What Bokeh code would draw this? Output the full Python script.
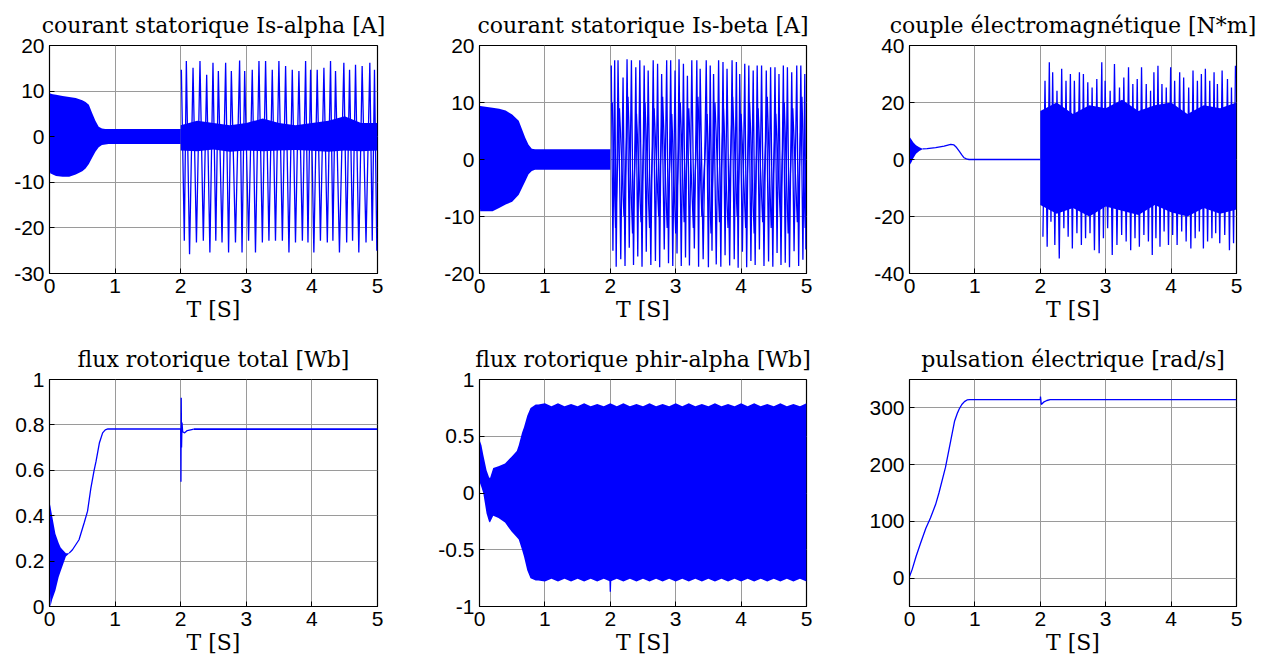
from bokeh.plotting import figure
from bokeh.layouts import column, row
from bokeh.models import FixedTicker, CustomJSTickFormatter, Range1d
from bokeh.embed import file_html
from bokeh.resources import INLINE

# ---------------- data ----------------
# Panel 1: courant statorique Is-alpha [A]
ia_env_t = [0, 0.01, 0.05, 0.1, 0.2, 0.3, 0.4, 0.5, 0.55, 0.6, 0.65, 0.7, 0.75, 0.8, 0.85, 0.9, 1.0, 1.5, 2.0]
ia_env_hi = [10.8, 9.5, 9.3, 9.2, 8.9, 8.7, 8.5, 8.0, 7.6, 7.0, 5.2, 3.5, 2.2, 1.8, 1.7, 1.7, 1.7, 1.7, 1.7]
ia_env_lo = [-6.0, -8.0, -8.3, -8.6, -8.8, -8.8, -8.3, -7.6, -7.0, -6.0, -4.6, -3.3, -2.3, -1.8, -1.7, -1.6, -1.6, -1.6, -1.6]
ia_core_t = [2.0, 2.25, 2.5, 2.75, 3.0, 3.25, 3.5, 3.75, 4.0, 4.25, 4.5, 4.75, 5.0]
ia_core_hi = [2.5, 3.5, 3.0, 2.5, 3.0, 4.0, 3.0, 2.5, 3.0, 3.5, 4.5, 3.0, 3.0]
ia_core_lo = [-3.0, -3.2, -2.8, -3.3, -3.0, -3.2, -3.0, -2.9, -3.1, -3.3, -3.0, -3.2, -3.0]
ia_up_t = [2.01, 2.086, 2.188, 2.294, 2.396, 2.492, 2.574, 2.685, 2.772, 2.898, 2.975, 3.091, 3.193, 3.294, 3.396, 3.497,
           3.599, 3.701, 3.802, 3.904, 3.98, 4.081, 4.183, 4.284, 4.36, 4.487, 4.574, 4.665, 4.766, 4.883, 4.954]
ia_up_v = [14.7, 16.6, 15.1, 16.6, 13.6, 16.2, 14.4, 16.2, 14.4, 16.7, 14.4, 14.7, 16.6, 16.6, 14.7, 16.6,
           15.5, 14.7, 14.4, 16.6, 14.7, 14.7, 15.1, 16.6, 14.4, 16.2, 14.7, 15.8, 15.5, 16.2, 14.7]
ia_dn_t = [2.055, 2.135, 2.24, 2.345, 2.445, 2.535, 2.63, 2.73, 2.835, 2.935, 3.035, 3.14, 3.245, 3.345, 3.445, 3.55,
           3.65, 3.75, 3.855, 3.94, 4.03, 4.13, 4.235, 4.32, 4.42, 4.53, 4.62, 4.715, 4.825, 4.92, 4.99]
ia_dn_v = [-22.8, -25.8, -23.2, -22.8, -25.4, -22.8, -23.2, -25.4, -23.2, -25.4, -22.8, -25.4, -23.2, -22.8, -22.8, -22.8,
           -25.4, -23.2, -22.8, -23.2, -25.4, -22.8, -23.2, -22.8, -25.4, -23.2, -22.8, -25.4, -23.2, -22.8, -25.0]

# Panel 2: courant statorique Is-beta [A]
ib_env_t = [0, 0.01, 0.2, 0.3, 0.4, 0.5, 0.6, 0.65, 0.7, 0.75, 0.8, 0.85, 1.0, 1.5, 2.0]
ib_env_hi = [9.6, 9.4, 9.1, 8.9, 8.6, 7.9, 6.8, 5.3, 3.8, 2.6, 1.9, 1.8, 1.8, 1.8, 1.8]
ib_env_lo = [-6.5, -9.1, -9.1, -8.5, -7.9, -7.4, -6.2, -5.0, -3.8, -2.6, -2.0, -1.8, -1.8, -1.8, -1.8]
ib_up_t = [2.015, 2.067, 2.118, 2.195, 2.256, 2.323, 2.39, 2.451, 2.518, 2.579, 2.656, 2.723, 2.785, 2.862, 2.923, 2.99,
           3.051, 3.118, 3.179, 3.246, 3.323, 3.374, 3.467, 3.528, 3.579, 3.656, 3.723, 3.785, 3.862, 3.928, 3.979,
           4.056, 4.118, 4.185, 4.246, 4.313, 4.385, 4.451, 4.518, 4.579, 4.646, 4.708, 4.774, 4.851, 4.913, 4.974]
ib_up_v = [16.5, 17.4, 17.4, 14.4, 17.6, 17.4, 16.2, 17.4, 16.5, 15.6, 17.4, 16.8, 15.0, 17.4, 17.4, 15.6,
           17.6, 16.8, 14.7, 17.4, 17.4, 15.9, 17.4, 16.5, 15.0, 17.4, 17.1, 15.9, 17.4, 17.1, 15.0,
           16.8, 16.5, 15.6, 16.5, 16.5, 15.6, 16.2, 16.2, 15.0, 16.5, 16.2, 15.3, 16.5, 16.5, 15.0]
ib_dn_t = [2.04, 2.09, 2.16, 2.225, 2.29, 2.355, 2.42, 2.485, 2.55, 2.62, 2.69, 2.755, 2.825, 2.89, 2.955, 3.02,
           3.085, 3.15, 3.21, 3.285, 3.35, 3.42, 3.5, 3.555, 3.62, 3.69, 3.755, 3.825, 3.895, 3.955, 4.02,
           4.085, 4.15, 4.215, 4.28, 4.35, 4.42, 4.485, 4.55, 4.61, 4.675, 4.74, 4.81, 4.88, 4.945, 4.99]
ib_dn_v = [-16.0, -18.8, -17.5, -18.7, -15.5, -18.5, -17.0, -18.8, -16.2, -18.5, -17.8, -18.9, -15.8, -18.2, -18.7, -16.5,
           -18.7, -17.2, -18.6, -15.6, -18.8, -17.5, -18.9, -16.0, -18.4, -18.8, -16.8, -18.6, -17.5, -19.0, -16.2,
           -18.9, -17.8, -18.5, -15.8, -18.7, -17.9, -18.8, -16.4, -18.5, -18.1, -18.9, -16.1, -18.7, -17.6, -15.8]
ib_mid_t = [2.03, 2.08, 2.14, 2.21, 2.27, 2.34, 2.4, 2.47, 2.53, 2.6, 2.67, 2.74, 2.8, 2.87, 2.94, 3.0,
            3.07, 3.13, 3.2, 3.27, 3.34, 3.4, 3.48, 3.54, 3.6, 3.67, 3.73, 3.8, 3.87, 3.94, 4.0,
            4.07, 4.13, 4.2, 4.26, 4.33, 4.4, 4.46, 4.53, 4.6, 4.66, 4.72, 4.79, 4.86, 4.93, 4.98]
ib_mid_v = [10, -12, 9, -10, 11, -13, 8, -11, 10, -12, 9, -10, 11, -12, 8, -13,
            10, -11, 9, -12, 11, -10, 8, -13, 10, -11, 9, -12, 11, -10, 8,
            -12, 10, -13, 9, -11, 11, -12, 8, -10, 10, -13, 9, -11, 11, -12]

# Panel 3: couple electromagnetique [N*m]
ce_env_t = [0, 0.03, 0.06, 0.1, 0.15, 0.2]
ce_env_hi = [8.0, 7.0, 6.0, 5.0, 4.3, 3.8]
ce_env_lo = [-2.0, -1.0, 0.5, 2.0, 3.0, 3.6]
ce_t = [0.2, 0.27, 0.4, 0.53, 0.63, 0.68, 0.72, 0.76, 0.8, 0.835, 0.87, 0.91, 1.0, 2.0]
ce_v = [3.7, 3.8, 4.2, 4.7, 5.3, 5.1, 4.2, 2.9, 1.6, 0.6, 0.2, 0.0, 0.0, 0.0]
ce_core_t = [2.0, 2.25, 2.5, 2.75, 3.0, 3.25, 3.5, 3.75, 4.0, 4.25, 4.5, 4.75, 5.0]
ce_core_hi = [17.0, 20.0, 16.0, 19.0, 18.0, 21.0, 17.0, 19.0, 20.0, 16.0, 19.0, 18.0, 20.0]
ce_core_lo = [-16.0, -19.0, -17.0, -20.0, -16.5, -18.0, -19.5, -16.0, -18.5, -20.0, -17.0, -19.0, -17.5]
ce_up_t = [2.072, 2.138, 2.189, 2.255, 2.327, 2.393, 2.46, 2.521, 2.598, 2.659, 2.726, 2.792, 2.864, 2.94, 2.991,
           3.068, 3.134, 3.211, 3.277, 3.349, 3.415, 3.482, 3.548, 3.62, 3.686, 3.737, 3.799, 3.86, 3.926, 3.993,
           4.054, 4.131, 4.192, 4.269, 4.335, 4.402, 4.463, 4.524, 4.591, 4.657, 4.708, 4.78, 4.862, 4.923, 4.984]
ce_up_v = [27.6, 34.1, 30.6, 24.1, 31.8, 27.6, 30.0, 27.6, 30.6, 30.0, 27.1, 25.3, 28.2, 34.1, 27.6,
           24.1, 33.5, 25.3, 28.8, 32.4, 26.5, 28.2, 32.4, 26.5, 24.1, 30.6, 32.9, 26.5, 25.3, 32.4,
           27.6, 30.6, 28.8, 25.3, 31.2, 27.6, 30.0, 31.8, 27.6, 30.6, 26.5, 31.2, 28.2, 25.3, 32.9]
ce_dn_t = [2.04, 2.105, 2.163, 2.222, 2.29, 2.36, 2.426, 2.49, 2.56, 2.628, 2.692, 2.76, 2.828, 2.9, 2.965,
           3.03, 3.1, 3.172, 3.244, 3.313, 3.382, 3.448, 3.515, 3.584, 3.653, 3.712, 3.768, 3.83, 3.893, 3.96,
           4.024, 4.092, 4.162, 4.23, 4.302, 4.368, 4.432, 4.494, 4.558, 4.624, 4.682, 4.744, 4.82, 4.892, 4.955]
ce_dn_v = [-27.1, -30.6, -21.8, -30.0, -34.7, -24.1, -27.1, -31.2, -25.9, -30.0, -27.6, -25.9, -31.8, -32.9, -27.6,
           -24.1, -33.5, -30.0, -26.5, -28.8, -31.8, -27.6, -30.6, -26.5, -28.8, -33.5, -27.6, -30.6, -25.3, -30.0,
           -26.5, -30.0, -25.3, -28.8, -31.2, -27.6, -25.3, -31.2, -28.8, -27.6, -25.9, -29.4, -26.5, -31.8, -29.4]

# Panel 4: flux rotorique total [Wb]
ft_env_t = [0, 0.015, 0.04, 0.09, 0.14, 0.17, 0.2, 0.25, 0.3]
ft_env_hi = [0.46, 0.44, 0.40, 0.32, 0.28, 0.26, 0.25, 0.235, 0.235]
ft_env_lo = [0.12, 0.0, 0.03, 0.07, 0.13, 0.155, 0.18, 0.22, 0.233]
ft_t = [0.3, 0.35, 0.45, 0.53, 0.58, 0.63, 0.68, 0.71, 0.76, 0.81, 0.85, 0.89, 0.95, 2.0,
        2.004, 2.008, 2.013, 2.02, 2.03, 2.06, 2.1, 2.2]
ft_v = [0.235, 0.25, 0.294, 0.37, 0.42, 0.52, 0.6, 0.64, 0.72, 0.765, 0.778, 0.782, 0.782, 0.782,
        0.55, 0.92, 0.7, 0.81, 0.77, 0.765, 0.775, 0.781]
ft_noise_t = [2.2, 5.0]
ft_noise_hi = [0.785, 0.785]
ft_noise_lo = [0.777, 0.777]

# Panel 5: flux rotorique phir-alpha [Wb]
pa_t = [0, 0.03, 0.057, 0.108, 0.145, 0.16, 0.21, 0.29, 0.39, 0.49, 0.57, 0.6, 0.65, 0.68, 0.73, 0.78, 0.86,
        0.9, 1.0, 1.1, 1.2, 1.3, 1.4, 1.5, 1.6, 1.7, 1.8, 1.9, 2.0, 2.1, 2.2, 2.3, 2.4, 2.5, 2.6, 2.7, 2.8, 2.9,
        3.0, 3.1, 3.2, 3.3, 3.4, 3.5, 3.6, 3.7, 3.8, 3.9, 4.0, 4.1, 4.2, 4.3, 4.4, 4.5, 4.6, 4.7, 4.8, 4.9, 5.0]
pa_hi = [0.47, 0.42, 0.34, 0.2, 0.14, 0.13, 0.22, 0.235, 0.26, 0.32, 0.37, 0.42, 0.53, 0.58, 0.68, 0.75, 0.78,
         0.78, 0.79, 0.765, 0.79, 0.765, 0.785, 0.765, 0.79, 0.765, 0.785, 0.765, 0.79, 0.765, 0.79, 0.765, 0.785,
         0.765, 0.79, 0.765, 0.785, 0.765, 0.79, 0.765, 0.79, 0.765, 0.785, 0.765, 0.79, 0.765, 0.785, 0.765, 0.79,
         0.765, 0.79, 0.765, 0.785, 0.765, 0.79, 0.765, 0.785, 0.765, 0.79]
pa_lo = [0.1, 0.05, 0.0, -0.18, -0.25, -0.26, -0.2, -0.22, -0.26, -0.34, -0.39, -0.41, -0.5, -0.56, -0.68, -0.75, -0.77,
         -0.77, -0.78, -0.755, -0.78, -0.755, -0.78, -0.755, -0.78, -0.755, -0.78, -0.755, -0.78, -0.755, -0.78, -0.755,
         -0.78, -0.755, -0.78, -0.755, -0.78, -0.755, -0.78, -0.755, -0.78, -0.755, -0.78, -0.755, -0.78, -0.755, -0.78,
         -0.755, -0.78, -0.755, -0.78, -0.755, -0.78, -0.755, -0.78, -0.755, -0.78, -0.755, -0.78]
pa_dip_t = [1.995, 2.0, 2.006]
pa_dip_v = [-0.75, -0.87, -0.75]

# Panel 6: pulsation electrique [rad/s]
w_t = [0, 0.04, 0.1, 0.17, 0.25, 0.32, 0.4, 0.45, 0.55, 0.63, 0.69, 0.73, 0.76, 0.8, 0.84, 0.88, 0.92, 1.0,
       2.0, 2.003, 2.015, 2.05, 2.1, 2.15, 5.0]
w_v = [3, 15, 38, 62, 88, 106, 130, 150, 195, 242, 277, 290, 298, 306, 311, 314, 314.5, 314.5,
       314.5, 320, 306, 310, 313, 314.5, 314.5]

titles = ["courant statorique Is-alpha [A]", "courant statorique Is-beta [A]", "couple électromagnétique [N*m]",
          "flux rotorique total [Wb]", "flux rotorique phir-alpha [Wb]", "pulsation électrique [rad/s]"]
x_ticks = [0, 1, 2, 3, 4, 5]
y_ranges = [(-30, 20), (-20, 20), (-40, 40), (0, 1), (-1, 1), (-50, 350)]
y_ticks = [[-30, -20, -10, 0, 10, 20], [-20, -10, 0, 10, 20], [-40, -20, 0, 20, 40],
           [0, 0.2, 0.4, 0.6, 0.8, 1], [-1, -0.5, 0, 0.5, 1], [0, 100, 200, 300]]
x_label = "T [S]"

# ---------------- drawing ----------------
BLUE = "#0000ff"
SERIF = "DejaVu Serif"
SANS = "Liberation Sans"
fmt_code = "return String(Math.round(tick * 1000) / 1000);"


def interleave(ut, uv, dt, dv):
    pts = sorted(list(zip(ut, uv)) + list(zip(dt, dv)))
    return [q[0] for q in pts], [q[1] for q in pts]


def panel(i, borders, height):
    l, r, t, b = borders
    p = figure(width=425, height=height, x_range=Range1d(0, 5), y_range=Range1d(*y_ranges[i]),
               output_backend="svg", toolbar_location=None,
               min_border_left=l, min_border_right=r, min_border_top=t, min_border_bottom=b)
    p.title.text = titles[i]
    p.title.align = "center"
    p.title.text_font = SERIF
    p.title.text_font_size = "22px"
    p.title.text_font_style = "normal"
    p.title.text_color = "black"
    p.title.standoff = 15
    p.outline_line_color = "black"
    p.outline_line_width = 1.2
    p.outline_line_alpha = 1
    p.xaxis.ticker = FixedTicker(ticks=x_ticks)
    p.yaxis.ticker = FixedTicker(ticks=y_ticks[i])
    for ax in (p.xaxis[0], p.yaxis[0]):
        ax.formatter = CustomJSTickFormatter(code=fmt_code)
        ax.major_tick_in = 5
        ax.major_tick_out = 0
        ax.minor_tick_in = 0
        ax.minor_tick_out = 0
        ax.axis_line_color = "black"
        ax.major_tick_line_color = "black"
        ax.major_label_text_font = SANS
        ax.major_label_text_font_size = "21px"
        ax.major_label_text_color = "black"
    p.xaxis.major_label_standoff = 5
    p.yaxis.major_label_standoff = 5
    p.xaxis.axis_label = x_label
    p.xaxis.axis_label_text_font = SERIF
    p.xaxis.axis_label_text_font_size = "22px"
    p.xaxis.axis_label_text_font_style = "normal"
    p.xaxis.axis_label_text_color = "black"
    p.xaxis.axis_label_standoff = 1
    p.grid.grid_line_color = "#9a9a9a"
    p.grid.grid_line_width = 1
    return p


row1_b = [(49, 48, 45, 57), (54, 44, 45, 57), (59, 39, 45, 57)]
row2_b = [(49, 48, 49, 55), (54, 44, 49, 55), (59, 39, 49, 55)]
figs = [panel(k, row1_b[k], 330) for k in range(3)] + [panel(k, row2_b[k - 3], 331) for k in range(3, 6)]
p1, p2, p3, p4, p5, p6 = figs

# Is-alpha
p1.varea(x=ia_env_t, y1=ia_env_lo, y2=ia_env_hi, fill_color=BLUE)
p1.varea(x=ia_core_t, y1=ia_core_lo, y2=ia_core_hi, fill_color=BLUE)
xa, ya = interleave(ia_up_t, ia_up_v, ia_dn_t, ia_dn_v)
p1.line(x=xa, y=ya, line_color=BLUE, line_width=1.3)

# Is-beta
p2.varea(x=ib_env_t, y1=ib_env_lo, y2=ib_env_hi, fill_color=BLUE)
xb, yb = interleave(ib_up_t, ib_up_v, ib_dn_t, ib_dn_v)
p2.line(x=xb, y=yb, line_color=BLUE, line_width=1.3)
p2.line(x=ib_mid_t, y=ib_mid_v, line_color=BLUE, line_width=1.3)

# couple
p3.varea(x=ce_env_t, y1=ce_env_lo, y2=ce_env_hi, fill_color=BLUE)
p3.line(x=ce_t, y=ce_v, line_color=BLUE, line_width=1.3)
p3.varea(x=ce_core_t, y1=ce_core_lo, y2=ce_core_hi, fill_color=BLUE)
xc, yc = interleave(ce_up_t, ce_up_v, ce_dn_t, ce_dn_v)
p3.line(x=xc, y=yc, line_color=BLUE, line_width=1.3)

# flux total
p4.varea(x=ft_env_t, y1=ft_env_lo, y2=ft_env_hi, fill_color=BLUE)
p4.line(x=ft_t, y=ft_v, line_color=BLUE, line_width=1.3)
p4.varea(x=ft_noise_t, y1=ft_noise_lo, y2=ft_noise_hi, fill_color=BLUE)

# phir-alpha
p5.varea(x=pa_t, y1=pa_lo, y2=pa_hi, fill_color=BLUE)
p5.line(x=pa_dip_t, y=pa_dip_v, line_color=BLUE, line_width=1.3)

# pulsation
p6.line(x=w_t, y=w_v, line_color=BLUE, line_width=1.3)

layout = column(row(p1, p2, p3), row(p4, p5, p6))
open("out.html", "w").write(file_html(layout, INLINE))
